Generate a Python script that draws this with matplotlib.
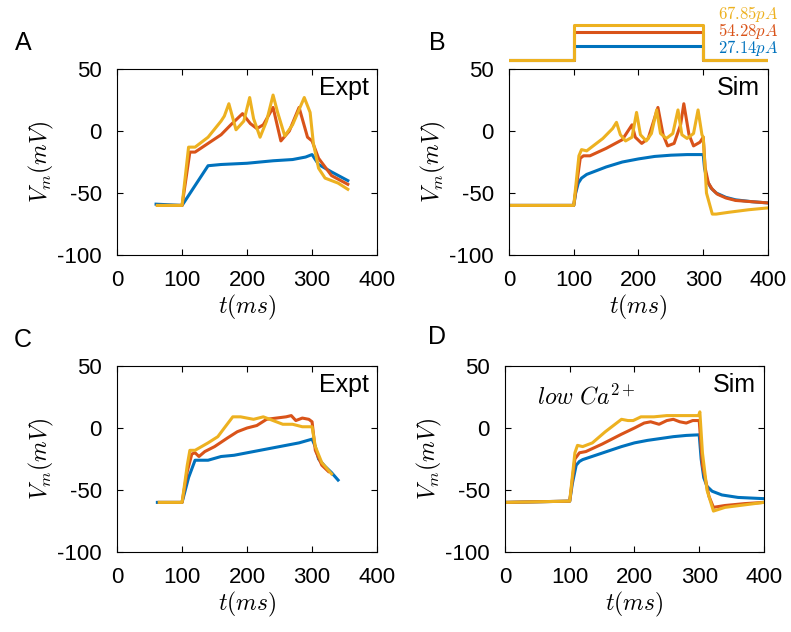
import matplotlib
matplotlib.use("Agg")
import matplotlib.pyplot as plt

plt.rcParams['font.family'] = ['Liberation Sans', 'DejaVu Sans']
plt.rcParams['mathtext.fontset'] = 'cm'
plt.rcParams['axes.unicode_minus'] = False

BLUE = '#0072BD'
RED = '#D95319'
YELLOW = '#EDB120'

# A: experiment
a_blue_t = [60, 100, 140, 160, 200, 240, 270, 290, 300, 310, 330, 355]
a_blue_v = [-59, -60, -28, -27, -26, -24, -23, -21, -19, -27, -33, -40]
a_red_t = [62, 100, 112, 120, 140, 160, 175, 193, 205, 215, 225, 240, 252, 265, 280, 293, 300, 310, 330, 355]
a_red_v = [-60, -60, -17, -17, -10, -3, 5, 14, 6, 2, 5, 19, -8, 0, 19, -5, -8, -22, -36, -43]
a_yel_t = [62, 100, 110, 120, 140, 160, 165, 172, 183, 195, 204, 210, 220, 230, 240, 247, 258, 270, 288, 297,
           302, 310, 320, 340, 355]
a_yel_v = [-60, -60, -13, -13, -5, 8, 12, 22, 1, 8, 27, 10, -5, 8, 29, 15, -4, 5, 27, 15,
           -10, -30, -38, -42, -47]

# B: simulation
b_blue_t = [0, 100, 103, 107, 112, 120, 135, 150, 175, 200, 225, 250, 275, 300,
            302, 306, 312, 320, 335, 350, 375, 400]
b_blue_v = [-60, -60, -50, -42, -38, -35, -32, -29, -25, -22.5, -20.5, -19.5, -19, -19,
            -30, -40, -46, -50, -53.5, -55.5, -57, -58]
b_red_t = [0, 100, 110, 115, 125, 150, 175, 190, 195, 205, 215, 230, 238, 245, 255, 265, 270, 278, 285, 295,
           300, 303, 308, 314, 322, 335, 350, 375, 400]
b_red_v = [-60, -60, -22, -20, -20, -14, -7, 5, -5, -10, -6, 19, -3, -12, -10, 5, 22, -3, -12, -9,
           -5, -30, -42, -47, -51, -54, -56, -57, -58]
b_yel_t = [0, 100, 108, 112, 120, 145, 160, 166, 172, 180, 190, 197, 203, 212, 220, 228, 234, 243, 253, 261,
           267, 275, 285, 292, 298, 300, 305, 314, 320, 340, 370, 400]
b_yel_v = [-60, -60, -20, -15, -16, -6, 2, 7, -3, -8, -5, 15, -3, -8, -2, 17, -2, -6, -2, 17,
           -3, -6, -2, 17, -3, -5, -50, -67, -67, -65.5, -63.5, -62]

# stimulus currents (pA), on between 100 and 300 ms
stim_t = [0, 100, 100, 300, 300, 400]
stim_amps = [27.14, 54.28, 67.85]

# C: experiment, low Ca
c_blue_t = [62, 100, 110, 120, 140, 160, 180, 190, 200, 220, 240, 260, 280, 300, 305, 310, 320, 330, 340]
c_blue_v = [-60, -60, -40, -26, -26, -23, -22, -21, -20, -18, -16, -14, -12, -9, -15, -25, -31, -36, -42]
c_red_t = [65, 100, 108, 115, 120, 126, 135, 150, 170, 185, 200, 215, 230, 245, 260, 268, 275, 285, 295, 300,
           305, 315, 325]
c_red_v = [-60, -60, -35, -21, -20, -23, -19, -15, -8, -3, 0, 2, 7, 8, 9, 10, 6, 8, 7, 5,
           -18, -30, -35]
c_yel_t = [65, 100, 108, 112, 120, 140, 155, 165, 178, 190, 200, 210, 225, 240, 255, 270, 285, 300,
           305, 315, 330]
c_yel_v = [-60, -60, -30, -18, -18, -12, -7, 0, 9, 9, 8, 7, 9, 6, 3, 3, 1, 1,
           -15, -28, -37]

# D: simulation, low Ca
d_blue_t = [0, 100, 104, 110, 115, 120, 140, 160, 180, 200, 220, 240, 260, 280, 300,
            303, 307, 312, 320, 335, 360, 400]
d_blue_v = [-60, -59, -45, -30, -27, -25.5, -22, -18.5, -15, -12, -10, -8.5, -7, -6, -5.5,
            -25, -40, -47, -51, -54, -56, -57]
d_red_t = [0, 100, 108, 115, 125, 150, 180, 200, 215, 225, 238, 250, 260, 270, 280, 290, 300,
           305, 315, 322, 340, 370, 400]
d_red_v = [-60, -59, -25, -20, -19, -13, -5, 0, 4, 5, 3, 6, 7, 5, 4, 6, 6,
           -30, -55, -64, -62.5, -61, -60]
d_yel_t = [0, 100, 108, 112, 120, 135, 155, 170, 180, 190, 198, 210, 230, 250, 270, 299, 301,
           305, 312, 322, 340, 370, 400]
d_yel_v = [-60, -59, -20, -14, -15, -12, -3, 3, 7, 6, 6, 9, 9, 10, 10, 10, 13,
           -20, -50, -67, -64, -62, -60]

fig = plt.figure(figsize=(7.91, 6.32), dpi=100)


def panel(rect, traces, tag, letter, letter_xy):
    ax = fig.add_axes(rect)
    for t, v, c in traces:
        ax.plot(t, v, color=c, lw=2.2)
    ax.set_xlim(0, 400)
    ax.set_ylim(-100, 50)
    ax.set_xticks([0, 100, 200, 300, 400])
    ax.set_yticks([-100, -50, 0, 50])
    ax.tick_params(direction='in', top=True, right=True, labelsize=16, length=4, pad=11)
    ax.set_xlabel(r'$t(ms)$', fontsize=17, labelpad=1)
    ax.set_ylabel(r'$V_m(mV)$', fontsize=17, labelpad=1)
    ax.text(388, 35, tag, fontsize=18, ha='right', va='center')
    fig.text(letter_xy[0], letter_xy[1], letter, fontsize=18, ha='center', va='center')
    return ax


panel([0.148, 0.5965, 0.3287, 0.2943],
      [(a_blue_t, a_blue_v, BLUE), (a_red_t, a_red_v, RED), (a_yel_t, a_yel_v, YELLOW)],
      'Expt', 'A', (23 / 791, 1 - 43 / 632))
panel([0.6435, 0.5965, 0.3274, 0.2943],
      [(b_blue_t, b_blue_v, BLUE), (b_red_t, b_red_v, RED), (b_yel_t, b_yel_v, YELLOW)],
      'Sim', 'B', (437 / 791, 1 - 43 / 632))
panel([0.148, 0.1266, 0.3287, 0.2943],
      [(c_blue_t, c_blue_v, BLUE), (c_red_t, c_red_v, RED), (c_yel_t, c_yel_v, YELLOW)],
      'Expt', 'C', (23 / 791, 1 - 340 / 632))
axd = panel([0.6384, 0.1266, 0.3274, 0.2943],
            [(d_blue_t, d_blue_v, BLUE), (d_red_t, d_red_v, RED), (d_yel_t, d_yel_v, YELLOW)],
            'Sim', 'D', (437 / 791, 1 - 337 / 632))
axd.text(49, 25, r'$low\ Ca^{2+}$', fontsize=17, ha='left', va='center')

# current steps drawn above panel B
axs = fig.add_axes([0.6435, 1 - 64 / 632, 0.3274, 48 / 632])
for amp, c in zip(stim_amps, [BLUE, RED, YELLOW]):
    axs.plot(stim_t, [0, 0, amp, amp, 0, 0], color=c, lw=2.2)
axs.set_xlim(0, 400)
axs.set_ylim(-8, 85)
axs.axis('off')
for amp, c, y in zip(stim_amps, [BLUE, RED, YELLOW], [48, 31, 14]):
    fig.text(778 / 791, 1 - y / 632, r'$%.2fpA$' % amp, color=c, fontsize=12, ha='right', va='center')

fig.savefig('out.png', dpi=100)
